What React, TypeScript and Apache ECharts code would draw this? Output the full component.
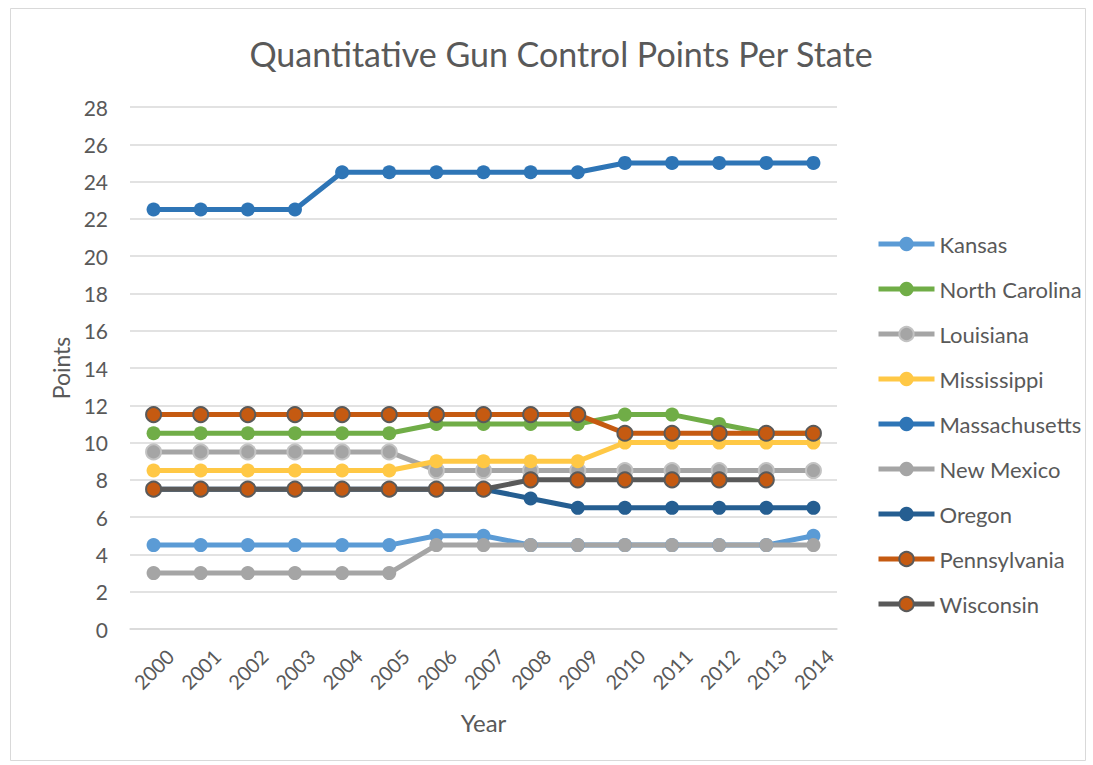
import React, { useEffect, useRef } from "react";
import * as echarts from "echarts";

const years = ["2000","2001","2002","2003","2004","2005","2006","2007","2008","2009","2010","2011","2012","2013","2014"];
const kansas = [4.5,4.5,4.5,4.5,4.5,4.5,5,5,4.5,4.5,4.5,4.5,4.5,4.5,5];
const northCarolina = [10.5,10.5,10.5,10.5,10.5,10.5,11,11,11,11,11.5,11.5,11,10.5,10.5];
const louisiana = [9.5,9.5,9.5,9.5,9.5,9.5,8.5,8.5,8.5,8.5,8.5,8.5,8.5,8.5,8.5];
const mississippi = [8.5,8.5,8.5,8.5,8.5,8.5,9,9,9,9,10,10,10,10,10];
const massachusetts = [22.5,22.5,22.5,22.5,24.5,24.5,24.5,24.5,24.5,24.5,25,25,25,25,25];
const newMexico = [3,3,3,3,3,3,4.5,4.5,4.5,4.5,4.5,4.5,4.5,4.5,4.5];
const oregon = [7.5,7.5,7.5,7.5,7.5,7.5,7.5,7.5,7,6.5,6.5,6.5,6.5,6.5,6.5];
const pennsylvania = [11.5,11.5,11.5,11.5,11.5,11.5,11.5,11.5,11.5,11.5,10.5,10.5,10.5,10.5,10.5];
const wisconsin: (number | null)[] = [7.5,7.5,7.5,7.5,7.5,7.5,7.5,7.5,8,8,8,8,8,8,null];

const FONT = "Lato";
const TXT = "#595959";

type S = { name: string; data: (number | null)[]; line: string; fill: string; border?: string };
const seriesDefs: S[] = [
  { name: "Kansas", data: kansas, line: "#5B9BD5", fill: "#5B9BD5" },
  { name: "North Carolina", data: northCarolina, line: "#70AD47", fill: "#70AD47" },
  { name: "Louisiana", data: louisiana, line: "#A5A5A5", fill: "#A5A5A5", border: "#C3C3C3" },
  { name: "Mississippi", data: mississippi, line: "#FFC845", fill: "#FFC845" },
  { name: "Massachusetts", data: massachusetts, line: "#2E75B6", fill: "#2E75B6" },
  { name: "New Mexico", data: newMexico, line: "#A5A5A5", fill: "#A5A5A5" },
  { name: "Oregon", data: oregon, line: "#255E91", fill: "#255E91" },
  { name: "Pennsylvania", data: pennsylvania, line: "#C55A11", fill: "#C55A11", border: "#5A5A5A" },
  { name: "Wisconsin", data: wisconsin, line: "#595959", fill: "#C55A11", border: "#5A5A5A" },
];

export default function App() {
  const ref = useRef<HTMLDivElement>(null);
  useEffect(() => {
    if (!ref.current) return;
    const chart = echarts.init(ref.current, undefined, { renderer: "svg" });
    chart.setOption({
      animation: false,
      backgroundColor: "#ffffff",
      title: {
        text: "Quantitative Gun Control Points Per State",
        left: 556,
        top: 31,
        textAlign: "center",
        textStyle: { fontFamily: FONT, fontSize: 34, fontWeight: "normal", color: TXT },
      },
      graphic: [
        {
          type: "rect",
          shape: { x: 10.5, y: 8.5, width: 1075, height: 752 },
          style: { fill: "none", stroke: "#D9D9D9", lineWidth: 1 },
          silent: true,
        },
      ],
      legend: {
        orient: "vertical",
        left: 871,
        top: 228,
        itemWidth: 56,
        itemHeight: 18,
        itemGap: 23,
        lineStyle: { width: 5 },
        textStyle: { fontFamily: FONT, fontSize: 22, color: TXT },
        data: seriesDefs.map((s) => s.name),
      },
      grid: { left: 130, right: 256, top: 107, bottom: 136, containLabel: false },
      xAxis: {
        type: "category",
        data: years,
        boundaryGap: true,
        name: "Year",
        nameLocation: "middle",
        nameGap: 81,
        nameTextStyle: { fontFamily: FONT, fontSize: 24, color: TXT },
        axisLine: { show: true, lineStyle: { color: "#D9D9D9", width: 1.5 } },
        axisTick: { show: false },
        axisLabel: {
          rotate: 45,
          align: "center",
          verticalAlign: "middle",
          margin: 40,
          fontFamily: FONT,
          fontSize: 20,
          color: TXT,
          interval: 0,
        },
      },
      yAxis: {
        type: "value",
        min: 0,
        max: 28,
        interval: 2,
        name: "Points",
        nameLocation: "middle",
        nameGap: 56,
        nameRotate: 90,
        nameTextStyle: { fontFamily: FONT, fontSize: 23, color: TXT },
        axisLine: { show: false },
        axisTick: { show: false },
        splitLine: { lineStyle: { color: "#D9D9D9", width: 1.5 } },
        axisLabel: { margin: 22, fontFamily: FONT, fontSize: 21, color: TXT },
      },
      series: seriesDefs.map((s) => ({
        name: s.name,
        type: "line",
        data: s.data,
        symbol: "circle",
        symbolSize: s.border ? 15 : 14,
        showSymbol: true,
        connectNulls: false,
        lineStyle: { color: s.line, width: 5 },
        itemStyle: {
          color: s.fill,
          borderColor: s.border ?? s.fill,
          borderWidth: s.border ? 2 : 0,
        },
        emphasis: { disabled: true },
      })),
    });
    return () => chart.dispose();
  }, []);
  return <div ref={ref} style={{ position: "absolute", left: 0, top: 0, width: 1093, height: 765 }} />;
}
